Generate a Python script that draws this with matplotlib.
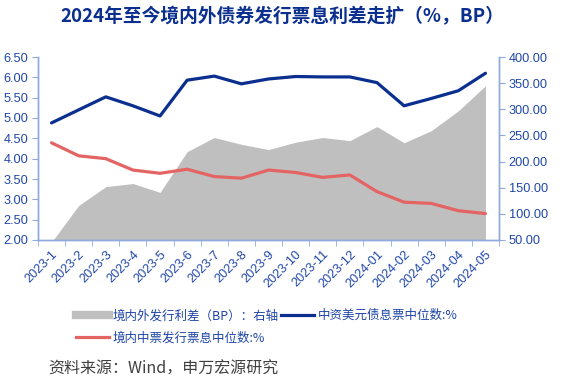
import matplotlib
matplotlib.use('Agg')
import matplotlib.pyplot as plt
from matplotlib.lines import Line2D
import numpy as np

# 数据
months = ['2023-1', '2023-2', '2023-3', '2023-4', '2023-5', '2023-6', '2023-7', '2023-8',
          '2023-9', '2023-10', '2023-11', '2023-12', '2024-01', '2024-02', '2024-03',
          '2024-04', '2024-05']
spread_bp = [46, 116, 152, 158, 141, 219, 246, 233, 223, 237, 246, 240, 267, 236, 259, 297, 345]
usd_coupon = [4.88, 5.20, 5.52, 5.30, 5.05, 5.93, 6.03, 5.84, 5.96, 6.02, 6.01, 6.01, 5.87,
              5.30, 5.48, 5.67, 6.10]
mtn_coupon = [4.39, 4.07, 4.00, 3.72, 3.64, 3.74, 3.56, 3.52, 3.72, 3.66, 3.54, 3.60, 3.19,
              2.93, 2.90, 2.72, 2.65]

left_ticks = [2.0, 2.5, 3.0, 3.5, 4.0, 4.5, 5.0, 5.5, 6.0, 6.5]
right_ticks = [50, 100, 150, 200, 250, 300, 350, 400]

# 样式
c_blue = '#0B2F8F'
c_red = '#E46464'
c_gray = '#BFBFBF'
c_tick = '#1F46A8'
c_spine = '#8EA9DB'
cjk = ['Noto Sans CJK SC', 'DejaVu Sans']
num_font = ['Liberation Sans', 'DejaVu Sans']

fig = plt.figure(figsize=(5.65, 3.85), dpi=100)
ax = fig.add_axes([38 / 565, 1 - 240 / 385, (499 - 38) / 565, (240 - 57) / 385])
ax2 = ax.twinx()

x = np.arange(len(months))

# 面积：右轴
ax2.fill_between(x, 0, spread_bp, color=c_gray, linewidth=0)
ax2.set_ylim(50, 400)
ax2.set_yticks(right_ticks)
ax2.set_yticklabels(['%.2f' % v for v in right_ticks])

# 折线：左轴
ax.plot(x, usd_coupon, color=c_blue, lw=2.3, solid_capstyle='round')
ax.plot(x, mtn_coupon, color=c_red, lw=2.3, solid_capstyle='round')
ax.set_ylim(2.0, 6.5)
ax.set_yticks(left_ticks)
ax.set_yticklabels(['%.2f' % v for v in left_ticks])
ax.set_xlim(-0.5, len(months) - 0.5)
ax.set_zorder(ax2.get_zorder() + 1)
ax.patch.set_visible(False)

# x 轴：刻度线在分类边界
ax.set_xticks(x)
ax.set_xticklabels(months, rotation=45, ha='right', rotation_mode='anchor')
ax.set_xticks(np.arange(-0.5, len(months), 1), minor=True)
ax.tick_params(axis='x', which='major', length=0, pad=6)
ax.tick_params(axis='x', which='minor', length=4, color=c_spine, direction='out')

for a in (ax, ax2):
    for s in ('top',):
        a.spines[s].set_visible(False)
    for s in ('left', 'right', 'bottom'):
        a.spines[s].set_color(c_spine)
        a.spines[s].set_linewidth(1.0)
    a.tick_params(axis='y', length=4, color=c_spine, labelcolor=c_tick, labelsize=9.2, pad=3)
    for lab in a.get_yticklabels():
        lab.set_family(num_font)
ax.tick_params(axis='x', labelcolor=c_tick, labelsize=9.2)
for lab in ax.get_xticklabels():
    lab.set_family(num_font)

# 标题
fig.text(0.5, 1 - 17 / 385, '2024年至今境内外债券发行票息利差走扩（%，BP）', ha='center', va='center',
         fontsize=13.5, fontweight='bold', color='#0B2F8F', family=cjk)

# 图例
handles = [
    Line2D([], [], color=c_gray, lw=6),
    Line2D([], [], color=c_red, lw=2.3),
    Line2D([], [], color=c_blue, lw=2.3),
]
labels = ['境内外发行利差（BP）：右轴', '境内中票发行票息中位数:%', '中资美元债息票中位数:%']
leg = fig.legend(handles, labels, loc='upper left', bbox_to_anchor=(70 / 565, 1 - 303 / 385),
                 ncol=2, frameon=False, borderpad=0, handlelength=2.6, handletextpad=0.3,
                 columnspacing=0.2, labelspacing=0.75,
                 prop={'family': cjk, 'size': 9})
for t in leg.get_texts():
    t.set_color(c_tick)

# 资料来源
fig.text(48 / 565, 1 - 369 / 385, '资料来源：Wind，申万宏源研究', ha='left', va='center',
         fontsize=11.5, color='#404040', family=cjk)

fig.savefig('out.png', dpi=100)
